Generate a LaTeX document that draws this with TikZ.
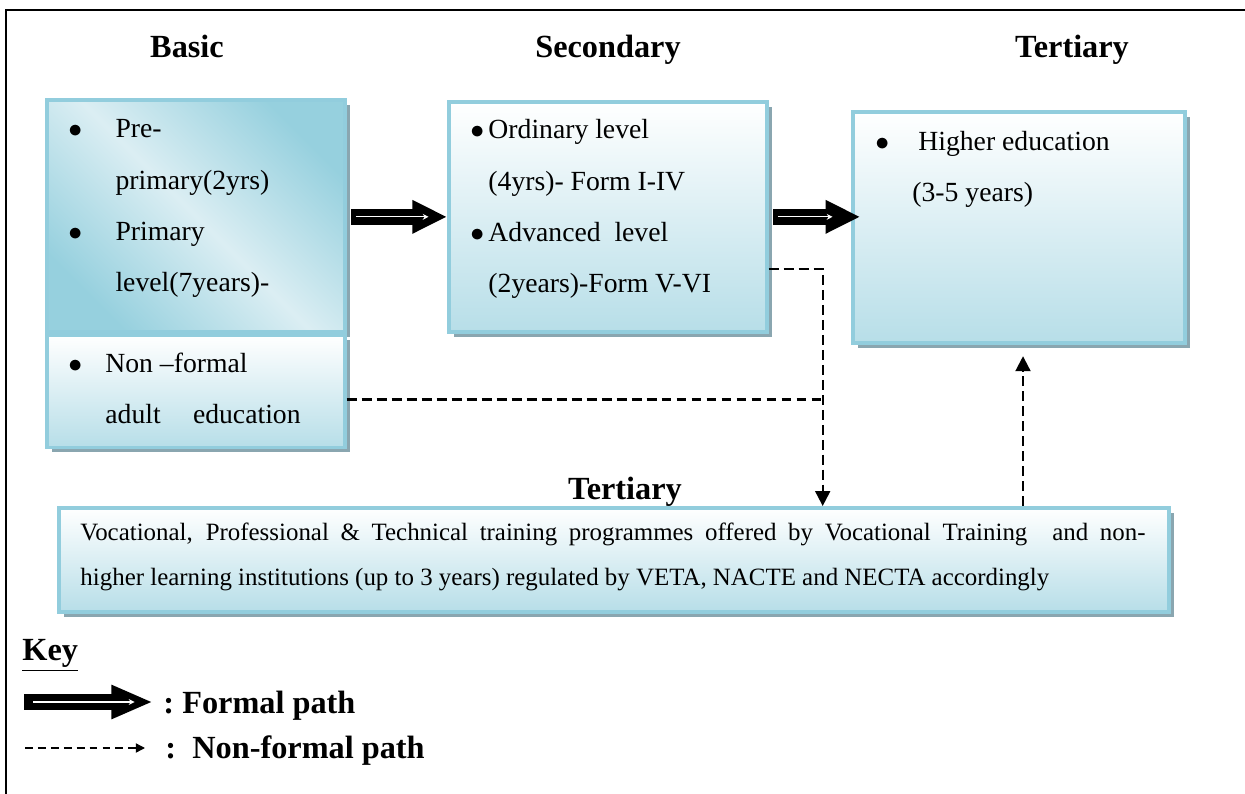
\documentclass[tikz,border=0pt]{standalone}
\usepackage{fontspec}
\setmainfont{Liberation Serif}
\usetikzlibrary{arrows.meta,calc,positioning,shadows}

\definecolor{boxline}{RGB}{146,205,221}
\definecolor{boxlight}{RGB}{219,238,243}
\definecolor{boxdeep}{RGB}{150,208,222}
\definecolor{boxbottom}{RGB}{183,222,232}
\definecolor{boxshadow}{RGB}{138,166,176}

\newcommand{\pxu}{0.4335pt}
\newcommand{\blt}[1]{\makebox[#1][l]{$\bullet$}}

\tikzset{
  levelbox/.style={draw=boxline, line width=1.6pt, anchor=north west, inner sep=0pt,
    top color=white, bottom color=boxbottom,
    drop shadow={shadow xshift=2.1pt, shadow yshift=-2.1pt, fill=boxshadow, opacity=1}},
  diagbox/.style={levelbox, top color=boxdeep, bottom color=boxdeep, middle color=boxlight, shading angle=-45},
  boxtext/.style={anchor=base west, inner sep=0pt, align=left, font=\fontsize{12pt}{22.3pt}\selectfont},
  heading/.style={anchor=base, inner sep=0pt, font=\fontsize{14pt}{16pt}\selectfont\bfseries},
  formal/.style={line width=7pt, -{Triangle[length=15pt,width=13.5pt]},
    postaction={draw=white, line width=0.5pt, shorten <=4pt, shorten >=8pt, -{Stealth[length=2.5pt,width=2.5pt]}}},
  nonformal/.style={dash pattern=on 4.3pt off 2.2pt, line width=0.9pt, -{Triangle[length=6.5pt,width=6.5pt]}},
}

\begin{document}
\begin{tikzpicture}[x=0.4335pt, y=-0.4335pt]
  \useasboundingbox (0,0) rectangle (1245,794);
  % 枠の描画
  \draw[line width=0.9pt] (6,794) -- (6,10) -- (1245,10);
  % 見出しの描画
  \node[heading] (basichead) at (187,58) {Basic};
  \node[heading] (secondhead) at (608,58) {Secondary};
  \node[heading] (terthead) at (1072,58) {Tertiary};
  % 箱の描画
  \node[diagbox, minimum width=298*\pxu, minimum height=232*\pxu] (basicup) at (45,98) {};
  \node[levelbox, minimum width=298*\pxu, minimum height=112*\pxu, anchor=north, below=0pt of basicup] (basiclow) {};
  \node[levelbox, minimum width=318*\pxu, minimum height=230*\pxu] (secondary) at (447,100) {};
  \node[levelbox, minimum width=332*\pxu, minimum height=231*\pxu] (tertiary) at (851,110) {};
  \node[levelbox, minimum width=1110*\pxu, minimum height=104*\pxu] (vocational) at (57,506) {};
  \node[heading] (vochead) at (625,500) {Tertiary};
  % 箱の中の文字 (基準は最後の行)
  \node[boxtext] (basicuptext) at ($(basicup.north west)+(23,194)$)
    {\blt{20.4pt}Pre-\\\hspace*{20.4pt}primary(2yrs)\\\blt{20.4pt}Primary\\\hspace*{20.4pt}level(7years)-};
  \node[boxtext] (basiclowtext) at ($(basiclow.north west)+(23,90)$)
    {\blt{16pt}Non --formal\\\hspace*{16pt}adult\hspace{11pt} education};
  \node[boxtext] (secondarytext) at ($(secondary.north west)+(23,193)$)
    {\blt{7.8pt}Ordinary level\\\hspace*{7.8pt}(4yrs)- Form I-IV\\\blt{7.8pt}Advanced\ \ level\\\hspace*{7.8pt}(2years)-Form V-VI};
  \node[boxtext] (tertiarytext) at ($(tertiary.north west)+(24,92)$)
    {\blt{18.6pt}Higher education\\\hspace*{16pt}(3-5 years)};
  \node[boxtext, font=\fontsize{10.8pt}{19.5pt}\selectfont] (vocationaltext) at ($(vocational.north west)+(23,79)$)
    {\makebox[461.7pt][s]{Vocational, Professional \& Technical training programmes offered by Vocational Training\quad and non-}\\
     higher learning institutions (up to 3 years) regulated by VETA, NACTE and NECTA accordingly};
  % 矢印の描画
  \draw[formal, shorten <=2pt] (secondary.west -| basicup.east) -- (secondary.west);
  \draw[formal, shorten <=2pt, shorten >=-4pt] (secondary.east) -- (secondary.east -| tertiary.west);
  % 点線の描画
  \coordinate (nfjoin) at ($(secondary.east)+(54,52)$);
  \coordinate (nfup) at (1023,0);
  \draw[nonformal] ($(secondary.east)+(0,52)$) -- (nfjoin) -- (nfjoin |- vocational.north);
  \draw[nonformal, -] ($(basiclow.east)+(0,8)$) coordinate (nfbasic) -- (nfbasic -| nfjoin);
  \draw[nonformal, shorten >=5pt] (vocational.north -| nfup) -- (tertiary.south -| nfup);
  % 凡例
  \node[heading, anchor=base west] (keyhead) at (22,660) {\underline{Key}};
  \coordinate (formalfrom) at (24,702);
  \coordinate (formalto) at (153,702);
  \draw[formal, -{Triangle[length=18pt,width=13.5pt]}] (formalfrom) -- (formalto);
  \node[heading, anchor=base west] (formallabel) at (163,713) {:\ Formal path};
  \coordinate (nonfrom) at (25,748);
  \coordinate (nonto) at (145,748);
  \draw[nonformal, line width=0.6pt, dash pattern=on 3.4pt off 2.2pt, -{Triangle[length=4pt,width=4pt]}] (nonfrom) -- (nonto);
  \node[heading, anchor=base west] (nonlabel) at (165,758) {:\ \ Non-formal path};
\end{tikzpicture}
\end{document}
